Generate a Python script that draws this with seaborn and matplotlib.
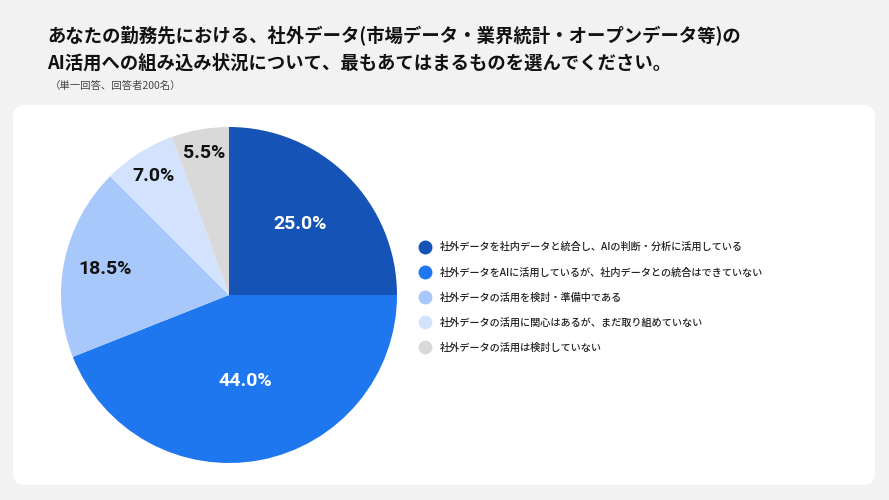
import numpy as np
import pandas as pd
import matplotlib
matplotlib.use("Agg")
import matplotlib.pyplot as plt
import seaborn as sns
from matplotlib.patches import FancyBboxPatch
from matplotlib.lines import Line2D

# data
categories = [
    "社外データを社内データと統合し、AIの判断・分析に活用している",
    "社外データをAIに活用しているが、社内データとの統合はできていない",
    "社外データの活用を検討・準備中である",
    "社外データの活用に関心はあるが、まだ取り組めていない",
    "社外データの活用は検討していない",
]
shares = [25.0, 44.0, 18.5, 7.0, 5.5]
colors = ["#1553b6", "#1f77f0", "#a8c7fa", "#d3e3fd", "#d9d9d9"]
label_colors = ["white", "white", "#111111", "#111111", "#111111"]
label_radius = [0.60, 0.52, 0.75, 0.84, 0.86]

title = ("あなたの勤務先における、社外データ(市場データ・業界統計・オープンデータ等)の\n"
         "AI活用への組み込み状況について、最もあてはまるものを選んでください。")
subtitle = "（単一回答、回答者200名）"

df = pd.DataFrame({"category": categories, "share": shares})

sns.set_theme(style="white")
plt.rcParams['font.family'] = ['Noto Sans CJK JP', 'DejaVu Sans']

W, H = 889, 500
fig = plt.figure(figsize=(W / 100, H / 100), dpi=100)
fig.patch.set_facecolor("#f2f2f2")

# white rounded panel
panel = FancyBboxPatch((13 / W, 15 / H), 862 / W, 380 / H,
                       boxstyle="round,pad=0,rounding_size=0.014",
                       transform=fig.transFigure, facecolor="white",
                       edgecolor="none", mutation_aspect=W / H, zorder=-5)
fig.patches.append(panel)

fig.text(47 / W, 1 - 26 / H, title, fontsize=13.2, fontweight="bold",
         va="top", ha="left", color="#111111", linespacing=1.5)
fig.text(50 / W, 1 - 86 / H, subtitle, fontsize=7.5, va="center",
         ha="left", color="#444444")

# pie axes
ax = fig.add_axes([61 / W, 37 / H, 336 / W, 336 / H])
ax.set_zorder(2)
wedges, _ = ax.pie(df["share"], colors=colors, startangle=90,
                   counterclock=False, radius=1,
                   wedgeprops=dict(linewidth=0))
ax.set_aspect("equal")
ax.set_xlim(-1, 1)
ax.set_ylim(-1, 1)

for w, val, c, r in zip(wedges, df["share"], label_colors, label_radius):
    ang = np.deg2rad((w.theta1 + w.theta2) / 2)
    ax.text(r * np.cos(ang), r * np.sin(ang), f"{val:.1f}%",
            ha="center", va="center", fontsize=14, fontweight="bold",
            color=c, family=["Roboto", "DejaVu Sans"])

# legend
handles = [Line2D([0], [0], marker="o", linestyle="none", markersize=9,
                  markerfacecolor=c, markeredgecolor=c) for c in colors]
leg = fig.legend(handles, categories, loc="upper left",
                 bbox_to_anchor=(420 / W, 1 - 242 / H), frameon=False,
                 prop={"size": 7.3, "weight": "medium"},
                 handletextpad=0.95, labelspacing=1.47,
                 handlelength=1.0, borderaxespad=0, borderpad=0)
for t in leg.get_texts():
    t.set_color("#222222")
leg.set_zorder(3)

fig.savefig("out.png", dpi=100, facecolor=fig.get_facecolor())
